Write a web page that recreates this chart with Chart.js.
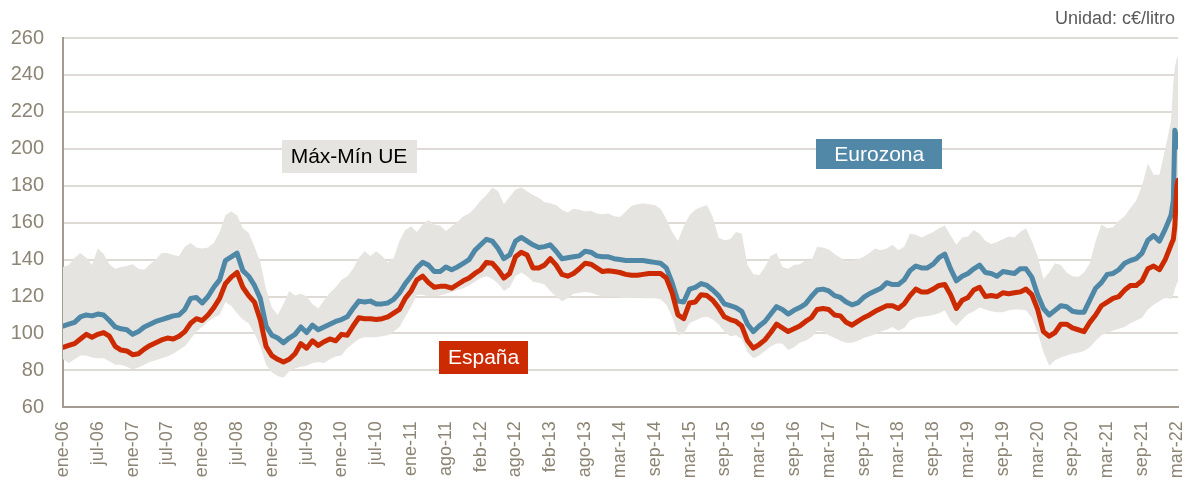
<!DOCTYPE html>
<html lang="es">
<head>
<meta charset="utf-8">
<title>Precio de la gasolina</title>
<script src="https://cdn.jsdelivr.net/npm/chart.js@4.4.1/dist/chart.umd.min.js"></script>
<style>
  html, body { margin: 0; padding: 0; background: #fff; }
  #wrap { width: 1187px; height: 486px; position: relative; }
</style>
</head>
<body>
<div id="wrap"><canvas id="priceChart" width="1187" height="486"></canvas></div>
<script>
// tick labels, one every 6 samples
const tickLabels = ['ene-06', 'jul-06', 'ene-07', 'jul-07', 'ene-08', 'jul-08', 'ene-09', 'jul-09',
    'ene-10', 'jul-10', 'ene-11', 'ago-11', 'feb-12', 'ago-12', 'feb-13', 'ago-13', 'mar-14',
    'sep-14', 'mar-15', 'sep-15', 'mar-16', 'sep-16', 'mar-17', 'sep-17', 'mar-18', 'sep-18',
    'mar-19', 'sep-19', 'mar-20', 'sep-20', 'mar-21', 'sep-21', 'mar-22'];

// sample positions: roughly monthly, then the last weeks of the series
const samplePos = Array.from({ length: 192 }, (_, i) => i).concat([191.4, 191.65, 192, 192.2]);

// c€/litro
const eurozona = [
    104, 105, 106, 109, 110, 109.5, 110.5, 110, 107, 103.5,
    102.5, 102, 99.5, 101, 103.5, 105, 106.5, 107.5, 108.5, 109.5,
    110, 113, 119, 119.5, 116.5, 120, 125, 129, 139.5, 141.5,
    143.5, 134, 131, 126, 119, 104, 99, 97.5, 95,
    97.5, 99.5, 103.5, 100.5, 104.5, 102, 103.5, 105, 106.5, 107.5, 109,
    113.5, 117.5, 117, 117.5, 116, 116, 116.5, 118.5, 122,
    127, 131, 135.5, 138.5, 137, 133.5, 133.5, 136, 134.5, 136, 138, 140, 145, 148, 151, 150, 146, 140.5, 142.5,
    150, 152, 150, 148, 146.5, 147, 148, 144.5, 140.5, 141, 141.5, 142, 144.5, 144, 142, 141.5, 141.5, 140.5,
    140, 139.5, 139.5, 139.5, 139.5, 139, 138.5, 138, 135.5, 127.5, 117.5, 117, 124, 125, 127, 126, 123.5,
    120.5, 116, 115, 114, 112, 105, 101, 104, 106.5, 110.5, 114.5,
    113, 110.5, 112.5, 114, 116, 120, 123.5, 124, 123, 120.5, 119.5, 117, 115.5, 116.5, 119.5, 121.5,
    123, 124.5, 127.5, 126.5, 126.5, 129, 134, 136.5, 135.5, 135.5, 137.5, 141, 143, 135, 128.5, 131,
    132.5, 135, 137, 133, 132.5, 131, 133.5, 133, 132.5, 135, 135, 130.5, 121, 113.5, 110, 112.5, 115, 114.5,
    112, 111.5, 111.5, 118, 124.5, 127.5, 132, 132.5, 134.5, 138, 139.5, 140.5, 143.5, 150.5, 153, 150, 156.5, 164,
    172, 210, 206, 201
];

const espana = [
    92.5, 93.5, 94.5, 97, 99.5, 98, 99.5, 100.5, 98.5, 93,
    91, 90.5, 88.5, 89, 91.5, 93.5, 95, 96.5, 97.5, 97,
    98.5, 101, 105.5, 108, 107, 110, 114, 119, 127, 130.5,
    133, 125, 120.5, 117, 107.5, 93, 88, 86, 84.5,
    86, 89, 94.5, 92, 96, 93.5, 95.5, 97, 96, 99.5, 99,
    104, 108.5, 108, 108, 107.5, 108, 109, 111, 113,
    119, 123, 129, 131, 127.5, 125, 125.5, 125.5, 124.5, 126.5, 128.5, 130, 132.5, 134.5, 138.5, 138, 134.5, 130, 132.5,
    141.5, 144, 142.5, 135.5, 135.5, 137, 140.5, 137, 132, 131, 132.5, 135, 138, 137.5, 135.5, 133.5, 134, 133.5,
    133, 132, 131.5, 131.5, 132, 132.5, 132.5, 132.5, 130, 122, 110, 108, 116.5, 117, 121, 120.5, 118,
    114, 109, 107.5, 106.5, 104, 96, 92, 94, 96.5, 100.5, 105,
    103, 101, 102.5, 104, 106.5, 108.5, 113, 113.5, 113, 110, 109.5, 106, 104.5, 106.5, 108.5, 110,
    112, 113.5, 115, 115, 113.5, 116, 120.5, 124, 122.5, 122.5, 124, 126, 126.5, 121, 113.5, 118,
    119.5, 123.5, 125, 120, 120.5, 120, 122, 121.5, 122, 122.5, 124, 121, 113, 101, 98.5, 100.5, 105, 105,
    103, 102, 101, 106, 110, 115, 117, 119, 120, 123.5, 126, 126, 128.5, 135, 136.5, 134.5, 140, 148,
    151, 158, 180, 183
];

// highest and lowest national price in the EU
const maxUE = [
    136, 137, 141, 143.5, 141, 137, 146, 143, 137.5, 135,
    136, 136.5, 137.5, 135, 134.5, 137.5, 140, 143.5, 143.5, 142.5,
    142, 147, 149, 146.5, 146, 146.5, 149, 155, 164, 166,
    164, 157, 154.5, 147, 139, 124, 114, 110, 116,
    123, 120.5, 121.5, 120, 116, 113.5, 118, 122, 125, 129, 131,
    135, 141, 144.5, 142, 144.5, 142, 138.5, 141, 150,
    156, 158, 155, 159, 161.5, 159, 158.5, 155.5, 158, 160.5, 163.5, 165, 168, 172, 175, 179, 177, 170, 174,
    178, 179, 177, 175, 173.5, 171, 170.5, 169.5, 167, 165.5, 167.5, 167, 166, 166.5, 165, 164.5, 165, 163.5,
    163, 166, 169, 170, 170.5, 170, 169.5, 167.5, 162, 155, 150, 158, 164, 167, 168.5, 169.5, 163,
    152, 150.5, 151, 155, 154, 137, 132, 131.5, 136, 142, 143.5,
    136, 135, 137, 137.5, 139.5, 139.5, 147, 146.5, 145.5, 143, 141, 139, 139.5, 140, 141.5, 143.5,
    146, 145, 146, 148, 145, 147, 154, 153.5, 152, 153.5, 155, 157, 158.5, 153, 148, 152,
    152.5, 156, 154, 150, 148.5, 149.5, 151, 152.5, 152, 155, 157, 150, 142, 129.5, 133, 138, 137, 133,
    131, 130.5, 133, 138, 150, 159, 157, 157.5, 161, 163.5, 168, 172, 180, 192, 186, 186, 200, 215,
    236, 244, 249, 250
];

const minUE = [
    86, 84, 86, 88, 88, 87, 86.5, 86.5, 85, 83,
    83, 82, 80.5, 81.5, 83, 84.5, 85.5, 86.5, 87.5, 89,
    91, 93, 97, 101, 103.5, 106.5, 108.5, 110, 117, 115,
    111, 107.5, 105.5, 100, 93, 83, 79, 77, 76,
    79.5, 81, 82, 82.5, 84, 84.5, 84, 86, 87.5, 88, 92,
    94.5, 97, 98, 98, 98, 98.5, 99, 101, 103.5,
    109, 114.5, 121, 121, 120, 120, 120.5, 121.5, 122.5, 123.5, 124.5, 126, 128, 130, 131, 129.5, 127, 123, 125,
    131, 133, 131, 128, 127.5, 126.5, 123, 120, 117.5, 119, 121.5, 122, 122.5, 122, 121, 120, 120, 120,
    119.5, 119, 119.5, 119.5, 119, 119, 119, 118.5, 115.5, 109, 99, 100, 105.5, 107, 108.5, 109, 107.5,
    105, 101, 98.5, 99, 97, 90, 86.5, 88, 90.5, 93, 94.5,
    94.5, 91, 92.5, 95, 96, 98, 101.5, 101, 99, 97.5, 96, 95, 95, 96, 97.5, 98.5,
    99.5, 101, 102, 103.5, 101.5, 103, 107, 108.5, 109, 109.5, 110, 111, 112.5, 107, 104, 107.5,
    110.5, 112, 114, 113, 112, 111.5, 111.5, 112.5, 113, 113, 112.5, 108.5, 100.5, 90, 82.5, 85.5, 87, 88,
    89, 89.5, 90.5, 92.5, 96, 99, 100.5, 101.5, 102.5, 103.5, 105.5, 107, 108.5, 113, 115.5, 117.5, 119.5, 118.5,
    121, 124, 127, 128
];

const FONT = '"Liberation Sans", Arial, sans-serif';
const TICK_COLOR = '#8c8474';

function points(values) {
    return samplePos.map((x, i) => ({ x, y: values[i] }));
}

// series name tags, anchored in data coordinates
const seriesTags = [
    { text: 'Máx-Mín UE', at: [49.3, 196], fill: '#e6e4e0', color: '#000000', padX: 9, height: 33 },
    { text: 'Eurozona', at: [140.7, 197.3], fill: '#5288a7', color: '#ffffff', padX: 18, height: 30 },
    { text: 'España', at: [72.5, 87], fill: '#cc2a00', color: '#ffffff', padX: 9, height: 33 },
];

const tagsPlugin = {
    id: 'seriesTags',
    afterDraw(chart) {
        const ctx = chart.ctx;
        const xs = chart.scales.x;
        const ys = chart.scales.y;
        ctx.save();
        ctx.font = '21px ' + FONT;
        ctx.textBaseline = 'middle';
        ctx.textAlign = 'center';
        seriesTags.forEach(tag => {
            const cx = xs.getPixelForValue(tag.at[0]);
            const cy = ys.getPixelForValue(tag.at[1]);
            const w = ctx.measureText(tag.text).width + tag.padX * 2;
            ctx.fillStyle = tag.fill;
            ctx.fillRect(Math.round(cx - w / 2), Math.round(cy - tag.height / 2), Math.round(w), tag.height);
            ctx.fillStyle = tag.color;
            ctx.fillText(tag.text, cx, cy + 1);
        });

        // unit note above the plot
        ctx.font = '18px ' + FONT;
        ctx.fillStyle = '#595959';
        ctx.textAlign = 'right';
        ctx.textBaseline = 'alphabetic';
        ctx.fillText('Unidad: c€/litro', chart.chartArea.right - 3, chart.chartArea.top - 14);
        ctx.restore();
    }
};

new Chart(document.getElementById('priceChart'), {
    type: 'line',
    data: {
        datasets: [{
            label: 'España',
            data: points(espana),
            borderColor: '#cc2a00',
            borderWidth: 5,
            pointRadius: 0,
            fill: false,
        }, {
            label: 'Eurozona',
            data: points(eurozona),
            borderColor: '#4f87a6',
            borderWidth: 5,
            pointRadius: 0,
            fill: false,
        }, {
            label: 'Máx UE',
            data: points(maxUE),
            borderWidth: 0,
            borderColor: 'rgba(0,0,0,0)',
            backgroundColor: '#e6e4e0',
            pointRadius: 0,
            fill: '+1',
        }, {
            label: 'Mín UE',
            data: points(minUE),
            borderWidth: 0,
            borderColor: 'rgba(0,0,0,0)',
            pointRadius: 0,
            fill: false,
        }]
    },
    options: {
        responsive: false,
        animation: false,
        devicePixelRatio: 1,
        layout: { padding: { top: 38, right: 9, left: 0, bottom: 0 } },
        elements: { line: { tension: 0, borderJoinStyle: 'round', borderCapStyle: 'round' } },
        plugins: {
            legend: { display: false },
            tooltip: { enabled: false },
        },
        scales: {
            x: {
                type: 'linear',
                min: 0,
                max: 192.2,
                afterBuildTicks: scale => {
                    scale.ticks = tickLabels.map((_, k) => ({ value: k * 6 }));
                },
                afterFit: scale => {
                    // the rotated end labels need no extra side room
                    scale.height = 78.7;
                    scale.paddingLeft = 0;
                    scale.paddingRight = 0;
                },
                grid: { display: false, drawTicks: false },
                border: { display: true, color: '#a39c90', width: 2 },
                ticks: {
                    autoSkip: false,
                    minRotation: 90,
                    maxRotation: 90,
                    padding: 14,
                    color: TICK_COLOR,
                    font: { family: FONT, size: 18 },
                    callback: value => tickLabels[Math.round(value / 6)],
                },
            },
            y: {
                min: 60,
                max: 260,
                afterFit: scale => { scale.width = 63; },
                grid: { color: '#dedad5', lineWidth: 2, drawTicks: false },
                border: { display: true, color: '#a39c90', width: 2 },
                ticks: {
                    stepSize: 20,
                    padding: 19,
                    color: TICK_COLOR,
                    font: { family: FONT, size: 20 },
                },
            },
        },
    },
    plugins: [tagsPlugin],
});
</script>
</body>
</html>
